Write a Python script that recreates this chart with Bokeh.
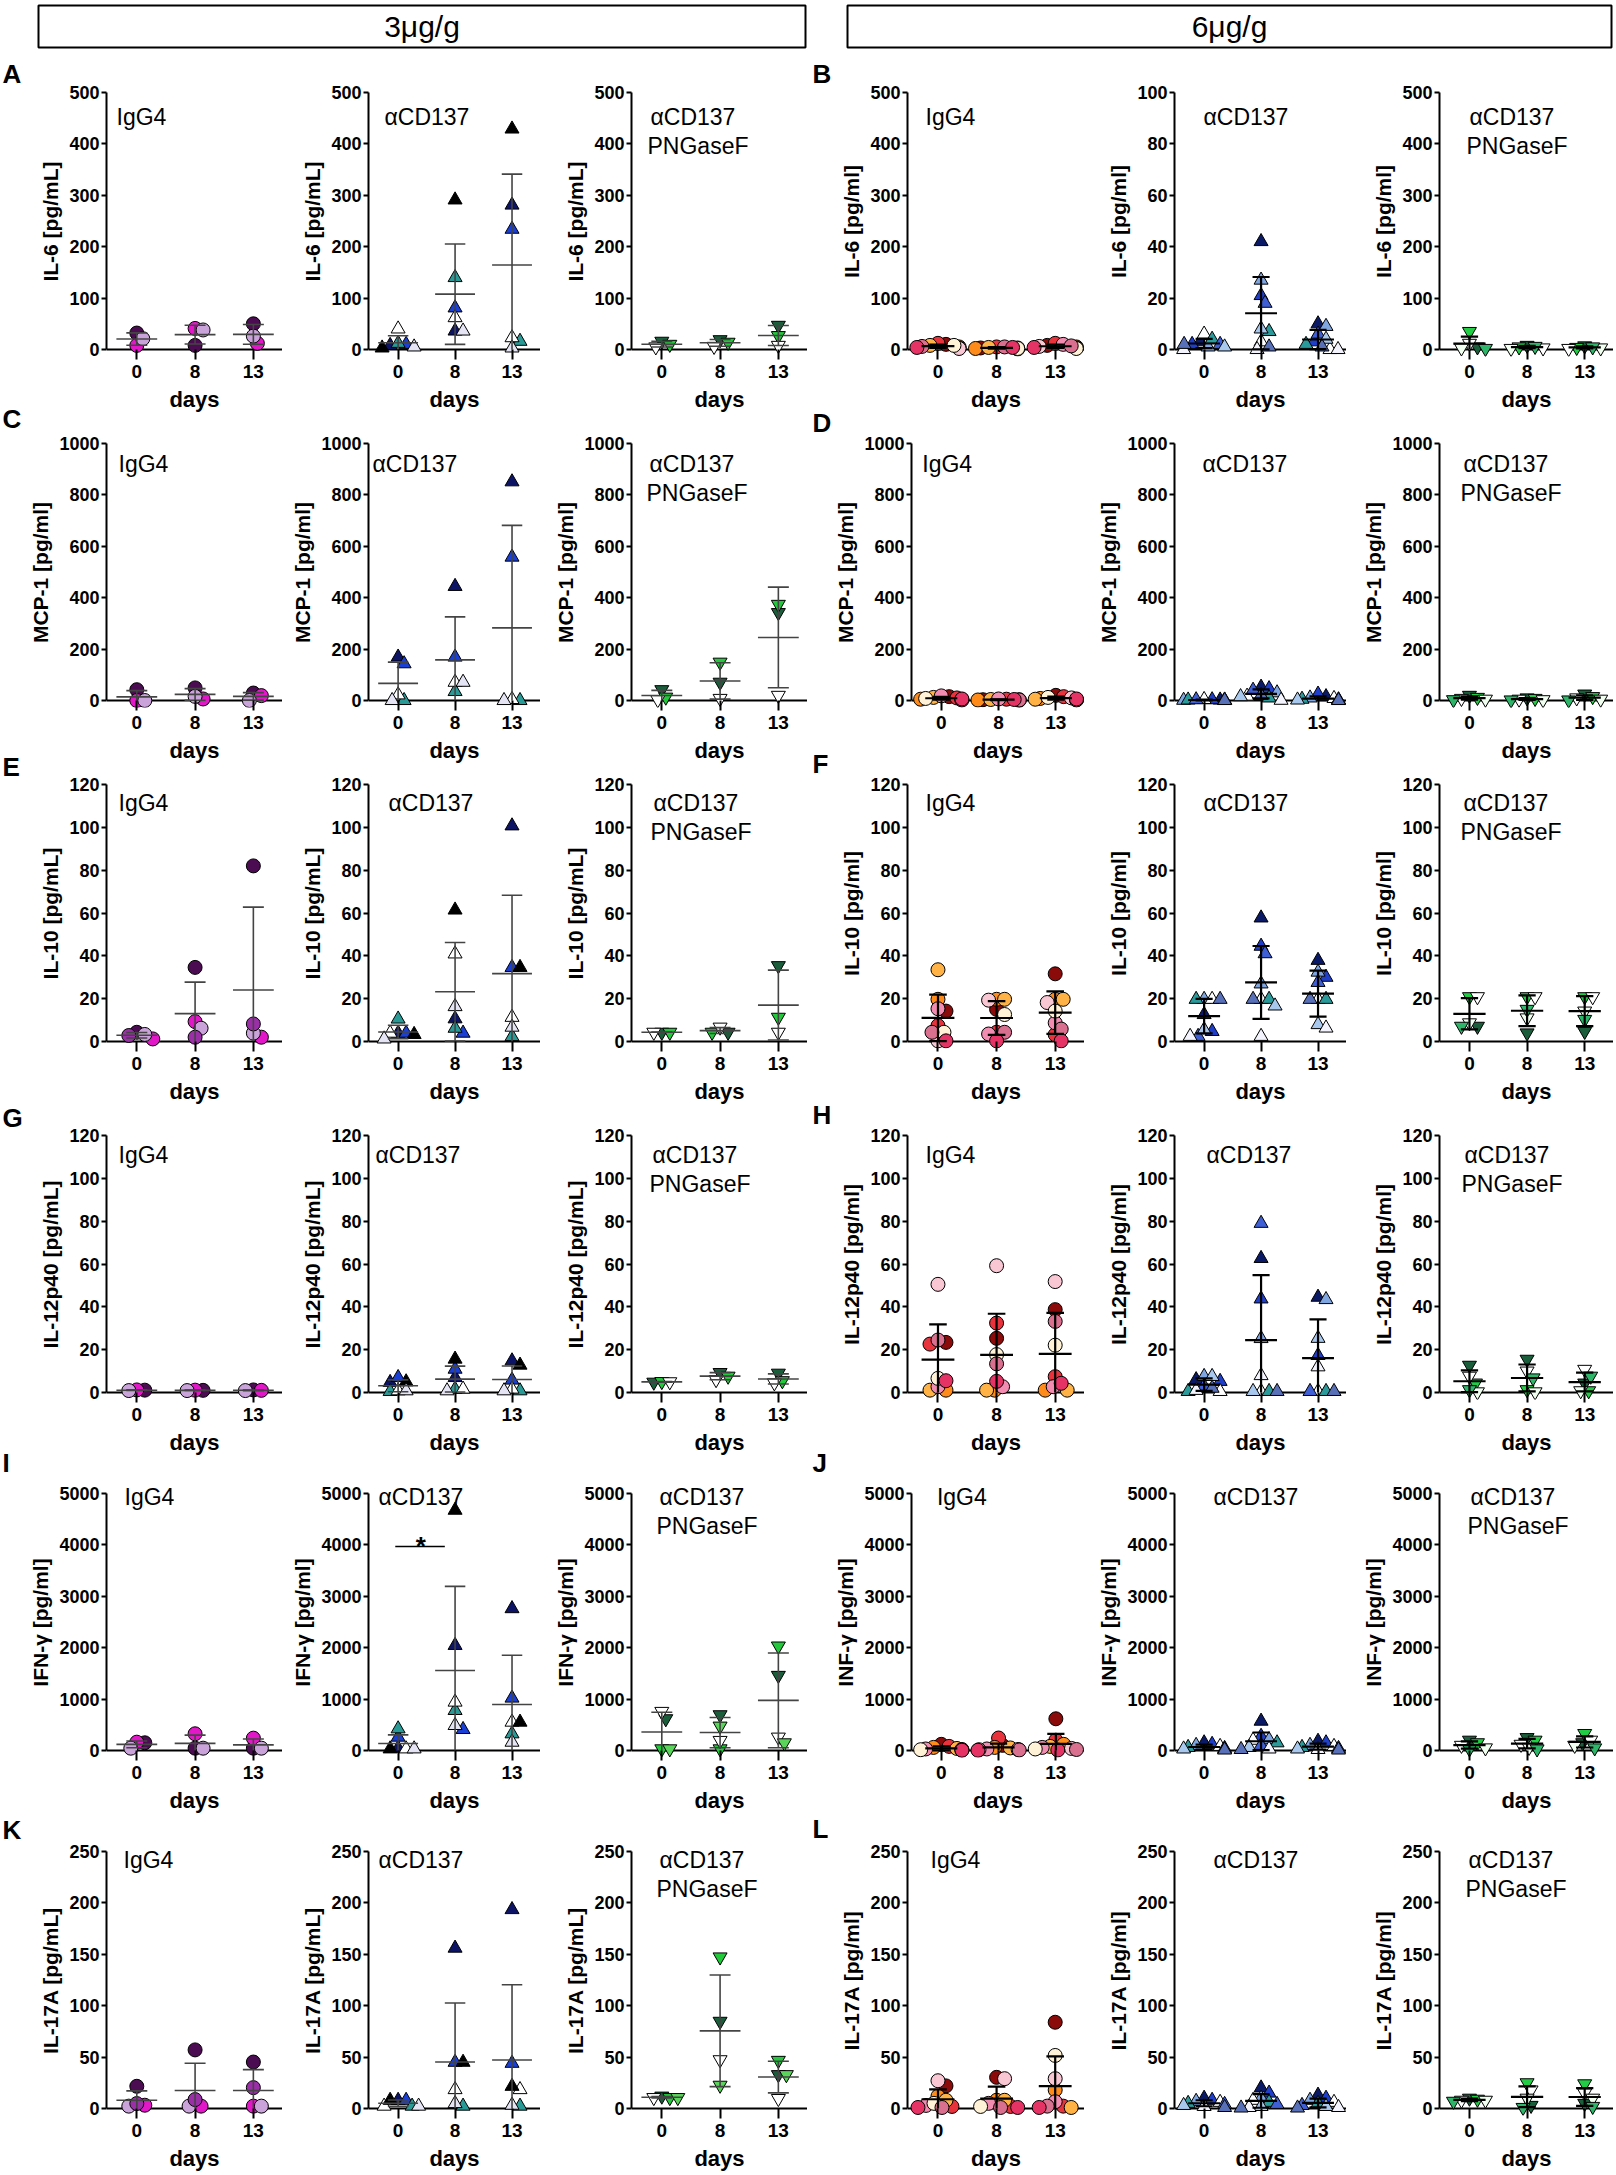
import numpy as np
from bokeh.plotting import figure
from bokeh.models import Range1d, FixedTicker, Label, ColumnDataSource, Span
from bokeh.layouts import row, column
from bokeh.embed import file_html
from bokeh.resources import INLINE
from bokeh.core.properties import value

# ---------------- data (values per day: 0, 8, 13; one entry per animal) ----------------
DAY_LABELS = ["0", "8", "13"]
HEADERS = ["3\u03bcg/g", "6\u03bcg/g"]
GROUP_TEXTS = [["IgG4"], ["\u03b1CD137"], ["\u03b1CD137", "PNGaseF"]]

# 3 ug/g
IL6_3_IGG4 = [[32, 8, 21, None], [8, 41, 38, None], [50, 12, 26, None]]
IL6_3_CD137 = [[8, 10, 12, 40, 3, 5], [36, 81, 140, 62, 291, 36], [281, 234, 16, 23, 429, 3]]
IL6_3_PNG = [[16, 10, 5, None], [19, 14, 6, None], [47, 27, 8, None]]
MCP1_3_IGG4 = [[42, 0, 0, None], [49, 6, 16, None], [29, 19, 0, None]]
MCP1_3_CD137 = [[169, 143, 0, 22, None, 0], [444, 169, 35, 71, None, 71], [851, 558, 0, 4, None, 0]]
MCP1_3_PNG = [[42, 13, 3, None], [71, 149, 8, None], [342, 374, 20, None]]
IL10_3_IGG4 = [[4.3, 1.2, 3.3, 2.8], [34.6, 9.3, 6.2, 2.0], [82, 2.0, 3.9, 8.2]]
IL10_3_CD137 = [[3.9, 3.9, 10.5, 3.9, 3.3, 1.2], [10.6, 3.9, 6.2, 40.9, 61.4, 16.3], [100.7, 34.6, 2.3, 11.3, 34.6, 6.7]]
IL10_3_PNG = [[4.3, 4.3, 4.3, None], [4.3, 4.3, 6.7, None], [35.4, 11.3, 4.3, None]]
IL12_3_IGG4 = [[1.1, 1.2, 0.9, None], [1.0, 1.1, 0.9, None], [1.2, 1.0, 0.9, None]]
IL12_3_CD137 = [[4.7, 7.0, 0.5, 0.8, 5.0, 0.8], [7.0, 10.9, 1.6, 1.6, 15.6, 0.8], [14.8, 5.8, 0.8, 1.6, 12.8, 0.8]]
IL12_3_PNG = [[4.8, 5.1, 5.0, None], [9.3, 7.6, 6.0, None], [9.0, 5.5, 4.5, None]]
IFNG_3_IGG4 = [[150, 162, 45, None], [45, 325, 45, None], [45, 240, 45, None]]
IFNG_3_CD137 = [[45, 260, 422, 32, 32, 32], [2045, 409, 779, 942, 4675, 487], [2760, 1020, 325, 552, 552, 162]]
IFNG_3_PNG = [[617, 32, 760, 32], [695, 32, 195, 474], [1461, 2032, 260, 149]]
IL17_3_IGG4 = [[21.6, 3.2, 2.3, 4.8], [57, 2.3, 2.3, 8.7], [45.2, 2.3, 2.3, 20.3]]
IL17_3_CD137 = [[8, 8, 2.3, 2.3, 8, 2.3], [156, 45, 2.3, 18.4, 45, 4.8], [193.5, 44, 2.3, 18.4, 21.6, 3.2]]
IL17_3_PNG = [[12, 10.6, 10.6, 10.6], [84.8, 147.4, 47.4, 22.6], [32.9, 46.8, 9.7, 32.9]]

# 6 ug/g
IL6_6_IGG4 = [[10, 12, 5, 8, 3, 2, 8, 6, 4], [3, 5, 2, 4, 1, 3, 2, 5, 4], [8, 12, 5, 3, 10, 6, 2, 7, 4]]
IL6_6_CD137 = [[3, 2, 1, 6, 4, 2, 1, 0, 2], [42, 21, 27, 3, 7, 18, 8, 0, 1], [10, 3, 9, 0, 2, 6, 4, 0, 1]]
IL6_6_PNG = [[5, 35, 12, 3, 2], [8, 5, 3, 2, 6], [7, 4, 2, 3, 5]]
MCP1_6_IGG4 = [[15, 10, 5, 12, 18, 3, 8, 2, 6], [3, 5, 2, 4, 6, 1, 3, 2, 4], [20, 15, 8, 5, 3, 10, 12, 2, 6]]
MCP1_6_CD137 = [[2, 3, 1, 4, 2, 3, 1, 2, 0], [52, 46, 30, 17, 10, 40, 15, 1, 20], [15, 25, 10, 8, 5, 3, 2, 1, 0]]
MCP1_6_PNG = [[20, 12, 8, 5, 3], [10, 8, 5, 3, 2], [25, 15, 10, 5, 2]]
IL10_6_IGG4 = [[14.2, 7.4, 19.7, 33.5, 15.3, 0.3, 4.3, 4.3, 0.3],
               [15, 4.3, 19.7, 19.7, 3.5, 19.3, 12.6, 4.3, 0.3],
               [31.6, 3.2, 19.7, 19.7, 8.7, 18.2, 14.2, 5.8, 0.3]]
IL10_6_CD137 = [[12.6, 4.7, 19.7, 19.7, 19.7, 2.4, 5.5, 2.4, 19.7],
                [57.7, 44.5, 26.9, 19.7, 19.7, 41, 16.6, 2.4, 19.7],
                [37.9, 30, 32.4, 19.7, 19.7, 27.6, 7.9, 6.3, 19.7]]
IL10_6_PNG = [[7.1, 20.9, 20.9, 8.7, 7.1], [4, 20.9, 20.9, 11, 15], [4.7, 20.9, 20.9, 14.2, 10.3]]
IL12_6_IGG4 = [[23.4, 22.6, 1.1, 1.1, 2.7, 50.5, 6.6, 24.5, 5.5],
               [25.3, 32.4, 1.1, 1.1, 2.7, 59.2, 17.7, 13.4, 5.2],
               [38.7, 7.4, 1.1, 1.1, 2.7, 51.8, 22.1, 33.2, 4.3]]
IL12_6_CD137 = [[6, 5.2, 7.5, 0.5, 0.5, 3, 7.5, 1, 2],
                [62.6, 43.7, 25.2, 0.5, 0.5, 79, 0.5, 7.9, 0.5],
                [44.5, 17.3, 43.4, 0.5, 0.5, 0.5, 25.3, 12, 0.5]]
IL12_6_PNG = [[12.7, 4.4, 7.6, 0.3, 1.3], [15.5, 1.3, 10, 0.3, 6.8], [4.4, 0.8, 10.8, 0.8, 7.6]]
IFNG_6_IGG4 = [[120, 80, 60, 40, 30, 20, 15, 10, 5], [100, 243, 60, 50, 30, 20, 15, 10, 5],
               [617, 200, 120, 80, 60, 40, 30, 20, 10]]
IFNG_6_CD137 = [[150, 120, 100, 80, 60, 40, 30, 20, 10], [571, 276, 210, 200, 150, 100, 60, 30, 20],
                [180, 150, 100, 80, 60, 40, 30, 20, 10]]
IFNG_6_PNG = [[200, 150, 100, 50, 30], [250, 200, 120, 60, 30], [150, 330, 200, 100, 50]]
IL17_6_IGG4 = [[22, 2, 12, 8, 3, 27, 5, 1, 1], [30.3, 2, 8, 8, 5, 29, 2, 1, 1],
               [83.9, 2.3, 18, 1, 6.6, 29, 51.6, 2.3, 1]]
IL17_6_CD137 = [[10, 8, 7, 6, 5, 4, 3, 2, 1], [20, 15, 10, 8, 6, 4, 2, 1, 0.5], [13, 10, 8, 6, 5, 3, 2, 1, 0.5]]
IL17_6_PNG = [[10, 9, 8, 8, 7], [3, 25, 18, 10, 1], [5, 24, 15, 10, 2]]

# significance bar in panel I (alpha-CD137, 3 ug/g): from day index 0 to 1
SIG_I = dict(x0=0, x1=1, y=3970, text="*")

# ---------------- styles / layout ----------------
P_IGG4_3 = ["#4b0c52", "#e218c8", "#c9a3d9", "#9a2fa8"]
P_CD137_3 = ["#0d1466", "#1a3fd6", "#2a9a96", "#ffffff", "#000000", "#e4e4f4"]
P_PNG_3 = ["#1b5e3b", "#22c93a", "#ffffff", "#5ad45a"]
P_IGG4_6 = ["#8b0a0a", "#e8323c", "#ff8c1a", "#ffb347", "#f28cb1", "#f9c6d3", "#fff2d6", "#d9708f", "#e63366"]
P_CD137_6 = ["#0b1a66", "#1f3ec9", "#7fa6e0", "#ffffff", "#2b9a9a", "#3f5fd6", "#a9c8ee", "#f4f4ff", "#5870b8"]
P_PNG_6 = ["#1b5e3b", "#22cc44", "#ffffff", "#f0fff0", "#2fb56a"]
MARKERS = ["circle", "triangle", "inverted_triangle"]
MSIZE = [14, 14, 14]

FONT = "Liberation Sans"
X0, X1 = -0.52, 2.5
PLOT_H = 257
T_BORDER = 8
EXT_TOP = 6
EXT_BOT = 7
FRAME_H = PLOT_H + EXT_TOP + EXT_BOT
ROW_H = [351, 341, 351, 358, 358, 338]
HEADER_H = 78
TOTAL_H = HEADER_H + sum(ROW_H)
LEFT_W, LEFT_B = [262, 258, 267], [86, 86, 91]
RIGHT_W, RIGHT_B = [253, 262, 267], [76, 90, 93]
LETTER_W = [22, 24]
LETTER_X = [2, 5]

LABEL_DX = [[[10, 16, 19], [12, 4, 18], [12, 20, 22], [12, 7, 21], [18, 10, 28], [17, 10, 28]],
            [[18, 29, 30], [11, 28, 24], [18, 29, 24], [18, 32, 25], [26, 39, 31], [23, 39, 29]]]
LABEL_DY = [8, 4, 2, 3, -13, -8]

ROWS = [
    dict(letters=("A", "B"), ylab=("IL-6 [pg/mL]", "IL-6 [pg/ml]"),
         panels=([(IL6_3_IGG4, 500, 100), (IL6_3_CD137, 500, 100), (IL6_3_PNG, 500, 100)],
                 [(IL6_6_IGG4, 500, 100), (IL6_6_CD137, 100, 20), (IL6_6_PNG, 500, 100)])),
    dict(letters=("C", "D"), ylab=("MCP-1 [pg/ml]", "MCP-1 [pg/ml]"),
         panels=([(MCP1_3_IGG4, 1000, 200), (MCP1_3_CD137, 1000, 200), (MCP1_3_PNG, 1000, 200)],
                 [(MCP1_6_IGG4, 1000, 200), (MCP1_6_CD137, 1000, 200), (MCP1_6_PNG, 1000, 200)])),
    dict(letters=("E", "F"), ylab=("IL-10 [pg/mL]", "IL-10 [pg/ml]"),
         panels=([(IL10_3_IGG4, 120, 20), (IL10_3_CD137, 120, 20), (IL10_3_PNG, 120, 20)],
                 [(IL10_6_IGG4, 120, 20), (IL10_6_CD137, 120, 20), (IL10_6_PNG, 120, 20)])),
    dict(letters=("G", "H"), ylab=("IL-12p40 [pg/mL]", "IL-12p40 [pg/ml]"),
         panels=([(IL12_3_IGG4, 120, 20), (IL12_3_CD137, 120, 20), (IL12_3_PNG, 120, 20)],
                 [(IL12_6_IGG4, 120, 20), (IL12_6_CD137, 120, 20), (IL12_6_PNG, 120, 20)])),
    dict(letters=("I", "J"), ylab=("IFN-\u03b3 [pg/ml]", "INF-\u03b3 [pg/ml]"),
         panels=([(IFNG_3_IGG4, 5000, 1000), (IFNG_3_CD137, 5000, 1000), (IFNG_3_PNG, 5000, 1000)],
                 [(IFNG_6_IGG4, 5000, 1000), (IFNG_6_CD137, 5000, 1000), (IFNG_6_PNG, 5000, 1000)])),
    dict(letters=("K", "L"), ylab=("IL-17A [pg/mL]", "IL-17A [pg/ml]"),
         panels=([(IL17_3_IGG4, 250, 50), (IL17_3_CD137, 250, 50), (IL17_3_PNG, 250, 50)],
                 [(IL17_6_IGG4, 250, 50), (IL17_6_CD137, 250, 50), (IL17_6_PNG, 250, 50)])),
]
LETTER_Y = ([73, 418, 766, 1117, 1462, 1829], [73, 422, 763, 1114, 1462, 1828])
PALETTES = ([P_IGG4_3, P_CD137_3, P_PNG_3], [P_IGG4_6, P_CD137_6, P_PNG_6])


def swarm(vals, ppx, ppy, dist=8.0, step=2.0, lim=0.36):
    idx = [i for i, v in enumerate(vals) if v is not None]
    order = sorted(idx, key=lambda i: -vals[i])
    cands = [0.0]
    for j in range(1, 80):
        cands += [j * step, -j * step]
    placed, offs = [], {}
    for i in order:
        yp = vals[i] * ppy
        chosen = 0.0
        for c in cands:
            if all((c - px) ** 2 + (yp - py) ** 2 >= dist ** 2 for px, py in placed):
                chosen = c
                break
        chosen = max(-lim * ppx, min(lim * ppx, chosen))
        placed.append((chosen, yp))
        offs[i] = chosen / ppx
    return offs


def style_axis(ax, label_size):
    ax.axis_line_width = 2
    ax.axis_line_color = "black"
    ax.major_tick_line_width = 2
    ax.major_tick_line_color = "black"
    ax.minor_tick_line_color = None
    ax.major_label_text_font = FONT
    ax.major_label_text_font_style = "bold"
    ax.major_label_text_font_size = label_size
    ax.major_label_text_color = "black"
    ax.axis_label_text_font = FONT
    ax.axis_label_text_font_style = "bold"
    ax.axis_label_text_color = "black"


def make_panel(data, ymax, ystep, ylabel, col, half, r, width, bleft, height, sig=None):
    frame_w = width - bleft
    ppx = frame_w / (X1 - X0)
    ppy = PLOT_H / ymax
    p = figure(width=width, height=height, x_range=Range1d(X0, X1),
               y_range=Range1d(-EXT_BOT / ppy, ymax + EXT_TOP / ppy),
               output_backend="svg", toolbar_location=None,
               min_border_left=bleft, min_border_right=0, min_border_top=T_BORDER,
               min_border_bottom=height - T_BORDER - FRAME_H)
    p.outline_line_color = None
    p.grid.visible = False
    p.background_fill_color = "white"
    p.border_fill_color = "white"

    # x axis: drawn visually at y = 0 (line as a span, ticks reaching up to it)
    xa = p.xaxis[0]
    style_axis(xa, "19px")
    xa.axis_line_color = None
    xa.ticker = FixedTicker(ticks=[0, 1, 2])
    xa.major_label_overrides = {0: DAY_LABELS[0], 1: DAY_LABELS[1], 2: DAY_LABELS[2]}
    xa.major_tick_in = EXT_BOT
    xa.major_tick_out = 3
    xa.major_label_standoff = 5
    xa.axis_label = "days"
    xa.axis_label_text_font_size = "22px"
    xa.axis_label_standoff = 6
    p.add_layout(Span(location=0, dimension="width", line_color="black", line_width=2, level="underlay"))

    ya = p.yaxis[0]
    style_axis(ya, "18px")
    ya.ticker = FixedTicker(ticks=list(range(0, ymax + 1, ystep)))
    ya.bounds = (0, ymax)
    ya.major_tick_out = 5
    ya.major_tick_in = 0
    ya.axis_label = ylabel
    ya.axis_label_text_font_size = "21px"
    ya.axis_label_standoff = 4
    ya.major_label_standoff = 2

    palette = PALETTES[half][col]
    xs, ys, cs = [], [], []
    for d, vals in enumerate(data):
        offs = swarm(vals, ppx, ppy)
        for i, v in enumerate(vals):
            if v is None:
                continue
            xs.append(d + offs[i])
            ys.append(v)
            cs.append(palette[i])
    src = ColumnDataSource(dict(x=xs, y=ys, c=cs))
    p.scatter("x", "y", source=src, marker=MARKERS[col], size=MSIZE[col],
              fill_color="c", line_color="black", line_width=1)

    # mean +/- SD
    hw_m, hw_c = (0.35, 0.18) if half == 0 else (0.28, 0.15)
    lc, lw = ("#444444", 1.6) if half == 0 else ("#000000", 2.2)
    x0s, y0s, x1s, y1s = [], [], [], []
    for d, vals in enumerate(data):
        v = np.array([a for a in vals if a is not None], dtype=float)
        m = v.mean()
        s = v.std(ddof=1)
        hi, lo = m + s, m - s
        x0s += [d - hw_m, d, d - hw_c]
        x1s += [d + hw_m, d, d + hw_c]
        y0s += [m, max(lo, 0), hi]
        y1s += [m, hi, hi]
        if lo > 0:
            x0s.append(d - hw_c); x1s.append(d + hw_c); y0s.append(lo); y1s.append(lo)
    p.segment(x0s, y0s, x1s, y1s, line_color=lc, line_width=lw)

    if sig is not None:
        p.segment([sig["x0"] - 0.05], [sig["y"]], [sig["x1"] - 0.18], [sig["y"]],
                  line_color="black", line_width=1.6)
        p.text([(sig["x0"] + sig["x1"]) / 2 - 0.1], [sig["y"]], text=[sig["text"]],
               text_font=value(FONT), text_font_size="26px", text_font_style="bold",
               text_align="center", text_baseline="alphabetic", text_color="black")

    dx = LABEL_DX[half][r][col]
    dy = LABEL_DY[r]
    for k, t in enumerate(GROUP_TEXTS[col]):
        off = -3 if k == 1 else 0
        p.add_layout(Label(x=X0 + (dx + off) / ppx, y=ymax - (dy + 16 + 29 * k) / ppy, text=t,
                           text_font=FONT, text_font_size="23px", text_color="black",
                           text_align="left", text_baseline="alphabetic"))
    return p


def header_fig(width, text):
    p = figure(width=width, height=HEADER_H, x_range=Range1d(0, width), y_range=Range1d(HEADER_H, 0),
               output_backend="svg", toolbar_location=None, min_border=0,
               x_axis_location=None, y_axis_location=None)
    p.outline_line_color = None
    p.grid.visible = False
    p.quad(left=[16], right=[width - 2], top=[5], bottom=[47], fill_color=None,
           line_color="black", line_width=2)
    p.text([(16 + width - 2) / 2], [26], text=[text], text_font=value(FONT), text_font_size="30px",
           text_align="center", text_baseline="middle", text_color="black")
    return p


def letter_fig(width, letters, ys, x):
    p = figure(width=width, height=TOTAL_H, x_range=Range1d(0, width), y_range=Range1d(TOTAL_H, 0),
               output_backend="svg", toolbar_location=None, min_border=0,
               x_axis_location=None, y_axis_location=None)
    p.outline_line_color = None
    p.grid.visible = False
    p.text([x] * len(letters), ys, text=list(letters), text_font=value(FONT), text_font_size="26px",
           text_font_style="bold", text_align="left", text_baseline="middle", text_color="black")
    return p


cols = []
for half in (0, 1):
    widths = list(LEFT_W if half == 0 else RIGHT_W)
    borders = list(LEFT_B if half == 0 else RIGHT_B)
    if half == 0:
        # letter column is 2px wider than before: take it from the first panel's border
        widths[0] -= 2
        borders[0] -= 2
    children = [header_fig(sum(widths), HEADERS[half])]
    for r, spec in enumerate(ROWS):
        figs = []
        for c, (data, ymax, ystep) in enumerate(spec["panels"][half]):
            sig = SIG_I if (r == 4 and half == 0 and c == 1) else None
            figs.append(make_panel(data, ymax, ystep, spec["ylab"][half], c, half, r,
                                   widths[c], borders[c], ROW_H[r], sig))
        children.append(row(*figs))
    cols.append(column(*children))

lettersL = letter_fig(LETTER_W[0], [s["letters"][0] for s in ROWS], LETTER_Y[0], LETTER_X[0])
lettersR = letter_fig(LETTER_W[1], [s["letters"][1] for s in ROWS], LETTER_Y[1], LETTER_X[1])

page = row(lettersL, cols[0], lettersR, cols[1])
open("out.html", "w").write(file_html(page, INLINE))
